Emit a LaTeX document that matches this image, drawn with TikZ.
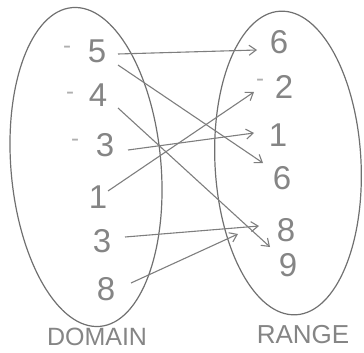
\documentclass[tikz,border=0pt]{standalone}
\usepackage{fontspec}
\setmainfont{Liberation Sans}
\usetikzlibrary{arrows.meta,calc}
\definecolor{pencil}{HTML}{707070}
\definecolor{lead}{HTML}{7E7E7E}
\definecolor{txt}{HTML}{858585}
\definecolor{faint}{HTML}{AFAFAF}
\tikzset{
  oval/.style={draw=pencil, line width=1.2pt},
  num/.style={text=txt, font=\fontsize{33}{33}\selectfont, inner sep=0pt},
  minus/.style={text=faint, font=\fontsize{24}{24}\selectfont, inner sep=0pt},
  lbl/.style={text=txt, inner sep=0pt},
  arr/.style={draw=lead, line width=1.1pt, -{Straight Barb[length=7pt,width=10pt,line width=1.1pt]}},
}
\begin{document}
\begin{tikzpicture}[x=1pt,y=-1pt]
\useasboundingbox (0,0) rectangle (364,353);
% ovals
\draw[oval, rotate around={5:(86,167)}] (86,167) ellipse [x radius=75, y radius=160];
\draw[oval, rotate around={3:(288,163)}] (288,163) ellipse [x radius=73, y radius=152];
% domain
\node[num] (d5) at (97,51) {5};
\node[num] (d4) at (98,95) {4};
\node[num] (d3) at (105,145) {3};
\node[num] (d1) at (98,197) {1};
\node[num] (d3b) at (102,241) {3};
\node[num] (d8) at (106,289) {8};
\node[minus] (m5) at (67,50) {-};
\node[minus] (m4) at (70,96) {-};
\node[minus] (m3) at (75,143) {-};
% range
\node[num] (r6) at (279,42) {6};
\node[num] (r2) at (284,87) {2};
\node[num] (r1) at (278,135) {1};
\node[num] (r6b) at (282,178) {6};
\node[num] (r8) at (286,230) {8};
\node[num] (r9) at (288,265) {9};
\node[minus] (m2) at (260,83) {-};
% labels
\node[lbl, font=\fontsize{25}{25}\selectfont] (dom) at (97,337) {DOMAIN};
\node[lbl, font=\fontsize{26}{26}\selectfont] (ran) at (303,335) {RANGE};
% arrows
\draw[arr] ($(d5)+(21,3)$) -- ($(r6)+(-22,8)$);
\draw[arr] ($(d5)+(21,14)$) -- ($(r6b)+(-19,-15)$);
\draw[arr] ($(d4)+(20,13)$) -- ($(r9)+(-18,-18)$);
\draw[arr] ($(d3)+(23,5)$) -- ($(r1)+(-24,-2)$);
\draw[arr] ($(d1)+(10,-6)$) -- ($(r2)+(-30,5)$);
\draw[arr] ($(d3b)+(23,-4)$) -- ($(r8)+(-27,-4)$);
\draw[arr] ($(d8)+(25,-6)$) -- ($(r8)+(-48,4)$);
\end{tikzpicture}
\end{document}
